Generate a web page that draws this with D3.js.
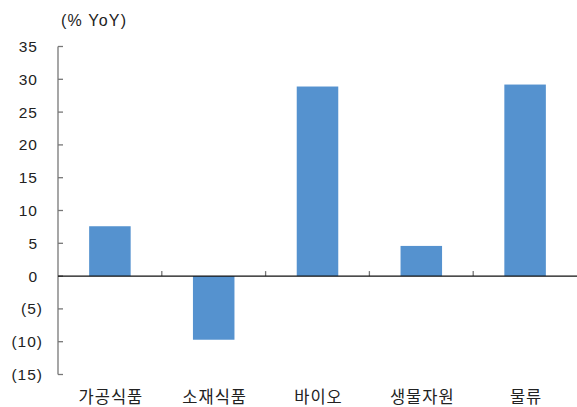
<!DOCTYPE html>
<html>
<head>
<meta charset="utf-8">
<script src="https://cdn.jsdelivr.net/npm/d3@7"></script>
<style>
  body { margin: 0; background: #fff; }
  svg text { fill: #222; }
</style>
</head>
<body>
<svg width="577" height="407"></svg>
<script>
// data
var categories = ["가공식품", "소재식품", "바이오", "생물자원", "물류"];
var values = [7.6, -9.7, 28.9, 4.6, 29.2];
var yTicks = [35, 30, 25, 20, 15, 10, 5, 0, -5, -10, -15];
var unitLabel = "(% YoY)";

var svg = d3.select("svg");
// plot edges (note: "top" is taken by window.top, so use other names)
var plotLeft = 58, plotRight = 577, plotTop = 46.5, plotBottom = 374.5;

var x = d3.scaleBand()
  .domain(categories)
  .range([plotLeft, plotRight])
  .paddingInner(0.6)
  .paddingOuter(0.3);

var y = d3.scaleLinear()
  .domain([-15, 35])
  .range([plotBottom, plotTop]);

var numFont = "'Liberation Sans', Arial, sans-serif";
var korFont = "'Noto Sans CJK KR', sans-serif";

// bars
svg.append("g")
  .selectAll("rect")
  .data(values)
  .enter()
  .append("rect")
  .attr("x", function(d, i) { return x(categories[i]); })
  .attr("width", x.bandwidth())
  .attr("y", function(d) { return y(Math.max(0, d)); })
  .attr("height", function(d) { return Math.abs(y(d) - y(0)); })
  .attr("fill", "#5592cf");

// y axis
var yAxis = svg.append("g");
yAxis.append("line")
  .attr("x1", plotLeft).attr("x2", plotLeft)
  .attr("y1", y(35)).attr("y2", y(-15))
  .attr("stroke", "#777").attr("stroke-width", 1.3);
yAxis.selectAll(".tick")
  .data(yTicks)
  .enter()
  .append("line")
  .attr("x1", plotLeft).attr("x2", plotLeft + 5)
  .attr("y1", function(d) { return y(d); })
  .attr("y2", function(d) { return y(d); })
  .attr("stroke", "#777").attr("stroke-width", 1.3);
yAxis.selectAll("text")
  .data(yTicks)
  .enter()
  .append("text")
  .attr("x", function(d) { return d < 0 ? 43 : 38; })
  .attr("y", function(d) { return y(d); })
  .attr("dy", "0.36em")
  .attr("text-anchor", "end")
  .style("font-family", numFont)
  .style("font-size", "15.5px")
  .style("letter-spacing", "1px")
  .text(function(d) { return d < 0 ? "(" + Math.abs(d) + ")" : d; });

// x axis along zero
var step = x.step();
var xAxis = svg.append("g");
xAxis.selectAll(".xt")
  .data(d3.range(1, categories.length))
  .enter()
  .append("line")
  .attr("x1", function(i) { return plotLeft + i * step; })
  .attr("x2", function(i) { return plotLeft + i * step; })
  .attr("y1", y(0)).attr("y2", y(0) - 5)
  .attr("stroke", "#777").attr("stroke-width", 1.3);
xAxis.append("line")
  .attr("x1", plotLeft).attr("x2", plotRight)
  .attr("y1", y(0)).attr("y2", y(0))
  .attr("stroke", "#111").attr("stroke-width", 1.3);

svg.append("g")
  .selectAll("text")
  .data(categories)
  .enter()
  .append("text")
  .attr("x", function(d) { return x(d) + x.bandwidth() / 2 + 1; })
  .attr("y", 403)
  .attr("text-anchor", "middle")
  .style("font-family", korFont)
  .style("font-size", "16.5px")
  .style("letter-spacing", "1px")
  .text(function(d) { return d; });

svg.append("text")
  .attr("x", 61)
  .attr("y", 26)
  .style("font-family", numFont)
  .style("font-size", "16px")
  .style("letter-spacing", "1.2px")
  .text(unitLabel);
</script>
</body>
</html>
